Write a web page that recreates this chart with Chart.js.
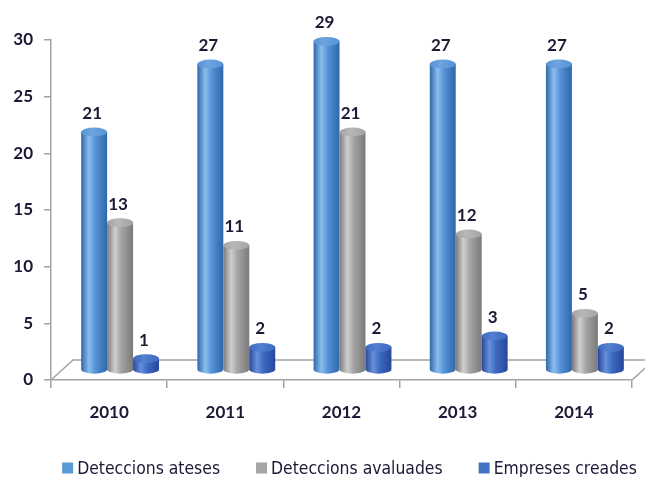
<!DOCTYPE html>
<html>
<head>
<meta charset="utf-8">
<script src="https://cdn.jsdelivr.net/npm/chart.js@4.4.0/dist/chart.umd.min.js"></script>
<style>
  html, body { margin: 0; padding: 0; background: #fff; }
  #wrap { width: 645px; height: 477px; }
</style>
</head>
<body>
<div id="wrap"><canvas id="chart"></canvas></div>
<script>
// data
const years = ['2010', '2011', '2012', '2013', '2014'];
const ateses = [21, 27, 29, 27, 27];
const avaluades = [13, 11, 21, 12, 5];
const creades = [1, 2, 2, 3, 2];
const yMax = 30;
const yStep = 5;

const seriesNames = ['Deteccions ateses', 'Deteccions avaluades', 'Empreses creades'];
const legendColors = ['#5b9bd5', '#a5a5a5', '#4472c4'];

// shading for the cylinders
const shades = [
  { fill: '#5592d6', light: '#8cbdee', dark: '#2f67ab', top: '#6ea4df' },
  { fill: '#a3a3a3', light: '#cfcfcf', dark: '#7a7a7a', top: '#b8b8b8' },
  { fill: '#3d69c0', light: '#6690dc', dark: '#27479a', top: '#537fd0' }
];

const DX = 11, DY = -10;      // bar offset (middle of the depth)
const FLOOR_DX = 22, FLOOR_DY = -20;
const axisGrey = '#a3a3a3';
const textColor = '#1a1a36';

function cylinder(ctx, x, top, bottom, w, c) {
  const rx = w / 2, ry = w * 0.17;
  const l = x - rx, r = x + rx;
  const g = ctx.createLinearGradient(l, 0, r, 0);
  g.addColorStop(0, c.dark);
  g.addColorStop(0.3, c.light);
  g.addColorStop(0.55, c.fill);
  g.addColorStop(1, c.dark);
  ctx.beginPath();
  ctx.moveTo(l, top);
  ctx.lineTo(l, bottom);
  ctx.ellipse(x, bottom, rx, ry, 0, Math.PI, 0, true);
  ctx.lineTo(r, top);
  ctx.closePath();
  ctx.fillStyle = g;
  ctx.fill();
  // top cap
  const tg = ctx.createLinearGradient(l, 0, r, 0);
  tg.addColorStop(0, c.fill);
  tg.addColorStop(0.4, c.top);
  tg.addColorStop(1, c.fill);
  ctx.beginPath();
  ctx.ellipse(x, top, rx, ry, 0, 0, Math.PI * 2);
  ctx.fillStyle = tg;
  ctx.fill();
}

const cylinders = {
  id: 'cylinders',
  beforeDatasetsDraw(chart) {
    const { ctx, chartArea: a } = chart;
    ctx.save();
    // floor of the 3d plot
    ctx.strokeStyle = axisGrey;
    ctx.lineWidth = 1.5;
    ctx.beginPath();
    ctx.moveTo(a.left, a.bottom);
    ctx.lineTo(a.left + FLOOR_DX, a.bottom + FLOOR_DY);
    ctx.lineTo(a.right + FLOOR_DX, a.bottom + FLOOR_DY);
    ctx.moveTo(a.right, a.bottom);
    ctx.lineTo(a.right + FLOOR_DX, a.bottom + FLOOR_DY);
    ctx.stroke();

    const labels = [];
    chart.data.datasets.forEach((ds, i) => {
      chart.getDatasetMeta(i).data.forEach((bar, j) => {
        const x = bar.x + DX;
        const top = bar.y + DY;
        cylinder(ctx, x, top, bar.base + DY, bar.width, shades[i]);
        labels.push({ x: x - 2, y: top - bar.width * 0.17 - 14, t: ds.data[j] });
      });
    });
    ctx.fillStyle = textColor;
    ctx.font = 'bold 17px Lato';
    ctx.textAlign = 'center';
    ctx.textBaseline = 'middle';
    labels.forEach(l => ctx.fillText(String(l.t), l.x, l.y));
    ctx.restore();
    return false;
  }
};

// legend drawn by hand so the spacing matches
const bottomLegend = {
  id: 'bottomLegend',
  afterDraw(chart) {
    const ctx = chart.ctx;
    ctx.save();
    ctx.font = '17.4px "DejaVu Sans Condensed"';
    ctx.textBaseline = 'middle';
    const box = 11, gap = 4, space = 36;
    const widths = seriesNames.map(n => box + gap + ctx.measureText(n).width);
    const total = widths.reduce((s, w) => s + w, 0) + space * (widths.length - 1);
    let x = 349.5 - total / 2;
    const y = 468;
    seriesNames.forEach((n, i) => {
      ctx.fillStyle = legendColors[i];
      ctx.fillRect(x, y - box / 2, box, box);
      ctx.fillStyle = textColor;
      ctx.fillText(n, x + box + gap, y + 1);
      x += widths[i] + space;
    });
    ctx.restore();
  }
};

const ctx = document.getElementById('chart').getContext('2d');
const chart = new Chart(ctx, {
  type: 'bar',
  data: {
    labels: years,
    datasets: [
      { label: seriesNames[0], data: ateses, backgroundColor: legendColors[0], borderWidth: 0 },
      { label: seriesNames[1], data: avaluades, backgroundColor: legendColors[1], borderWidth: 0 },
      { label: seriesNames[2], data: creades, backgroundColor: legendColors[2], borderWidth: 0 }
    ]
  },
  options: {
    responsive: true,
    maintainAspectRatio: false,
    animation: false,
    categoryPercentage: 0.67,
    barPercentage: 1,
    layout: { padding: { top: 40, right: 13, left: 0, bottom: 0 } },
    plugins: {
      tooltip: { enabled: false },
      legend: { display: false }
    },
    scales: {
      x: {
        grid: { offset: true, drawOnChartArea: false, tickLength: 8, color: axisGrey, lineWidth: 1.5 },
        border: { color: axisGrey, width: 1.5 },
        ticks: { color: textColor, padding: 14, font: { family: 'Lato', weight: 'bold', size: 17 } },
        afterFit(scale) { scale.height = 97; }
      },
      y: {
        min: 0,
        max: yMax,
        ticks: { stepSize: yStep, color: textColor, padding: 11, font: { family: 'Lato', weight: 'bold', size: 17 } },
        grid: { drawOnChartArea: false, tickLength: 7, color: axisGrey, lineWidth: 1.5 },
        border: { color: axisGrey, width: 1.5 },
        afterFit(scale) { scale.width = 51; }
      }
    }
  },
  plugins: [cylinders, bottomLegend]
});
</script>
</body>
</html>
